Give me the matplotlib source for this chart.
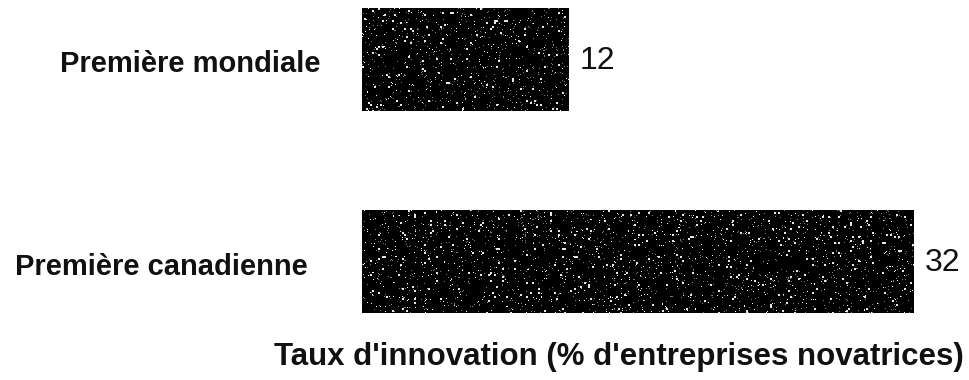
import numpy as np
import matplotlib
matplotlib.use("Agg")
import matplotlib.pyplot as plt
from matplotlib.transforms import blended_transform_factory

categories = ["Première mondiale", "Première canadienne"]
values = [12, 32]
xlabel = "Taux d'innovation (% d'entreprises novatrices)"

plt.rcParams["font.family"] = ["Liberation Sans", "DejaVu Sans"]

W, H = 969, 380
fig = plt.figure(figsize=(W / 100, H / 100), dpi=100)
ax = fig.add_axes([362 / W, 50 / H, 1 - 362 / W, 330 / H])

ypos = np.arange(len(values))
bars = ax.barh(ypos, values, height=0.51, color="#050505", edgecolor="none", zorder=2)

# speckled fill texture inside each bar: sparse coarse flecks plus fine grain
rng = np.random.default_rng(7)
for b in bars:
    x0, y0 = b.get_x(), b.get_y()
    w, h = b.get_width(), b.get_height()
    nw = int(w * 17.25)
    nh = 103
    tex = np.zeros((nh, nw))
    fine = rng.random((nh, nw))
    tex[fine < 0.035] = 0.5
    tex[fine < 0.012] = 1.0
    coarse = rng.random((nh // 2 + 1, nw // 2 + 1)) < 0.022
    coarse = np.kron(coarse, np.ones((2, 2)))[:nh, :nw]
    tex[coarse > 0] = 0.9
    ax.imshow(tex, cmap="gray", vmin=0, vmax=1, extent=(x0, x0 + w, y0 + h, y0),
              aspect="auto", interpolation="nearest", clip_path=b, zorder=3)

ax.set_xlim(0, 607 / 17.25)
ax.set_ylim(1.339, -0.295)
ax.axis("off")

# category labels, right-aligned left of the bars
tr = blended_transform_factory(fig.transFigure, ax.transData)
label_right = [320, 308]
label_base = [0.062, 0.067]
for i, (cat, xr, yb) in enumerate(zip(categories, label_right, label_base)):
    ax.text(xr / W, i + yb, cat, transform=tr, ha="right", va="baseline",
            fontsize=21, fontweight="bold", color="#111111")

# value labels at bar ends
for i, v in enumerate(values):
    ax.annotate(str(v), xy=(v, i), xytext=(8, -7), textcoords="offset points",
                ha="left", va="baseline", fontsize=23, color="#111111")

fig.text(619 / W, 1 - 357 / H, xlabel, ha="center", va="center",
         fontsize=22.5, fontweight="bold", color="#111111")

fig.savefig("out.png", dpi=100, facecolor="white")
